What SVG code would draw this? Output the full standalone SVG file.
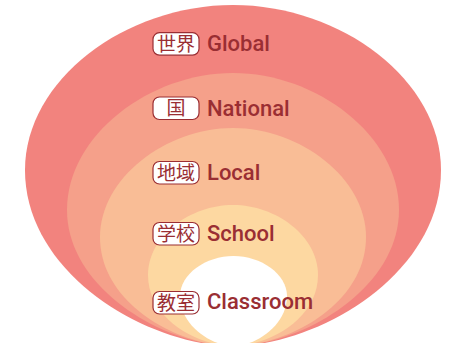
<svg xmlns="http://www.w3.org/2000/svg" width="452" height="343" viewBox="0 0 452 343">
<style>
.lat{font-family:Roboto,"Liberation Sans",sans-serif;font-weight:500;font-size:22px;fill:#9a2e33}
.cjk{font-family:"Noto Sans CJK JP","Noto Sans",sans-serif;font-size:19px;fill:#9a2e33;text-anchor:middle}
.box{fill:#fff;stroke:#9a2e33;stroke-width:1.2}
</style>
<rect width="452" height="343" fill="#fff"/>
<g id="global">
<path d="M233,346 C149.8,346 25,275.6 25,170 C25,80 125,5 233,5 C341,5 441,80 441,170 C441,275.6 316.2,346 233,346Z" fill="#f2837e"/>
</g>
<g id="national">
<path d="M233,346 C166.6,346 67,290 67,210 C67,135 150,73 233,73 C316,73 399,135 399,210 C399,290 299.4,346 233,346Z" fill="#f5a08a"/>
</g>
<g id="local">
<path d="M233,346 C180,346 100,305 100,237 C100,178 166,128 233,128 C300,128 366,178 366,237 C366,305 286,346 233,346Z" fill="#f9bd96"/>
</g>
<g id="school">
<path d="M233,346 C199,346 148,320 148,275 C148,236 190,205 233,205 C276,205 318,236 318,275 C318,320 267,346 233,346Z" fill="#fdd8a1"/>
</g>
<g id="classroom">
<path d="M233.5,346 C212,346 180,326 180,296 C180,274 206,256 233.5,256 C261,256 287,274 287,296 C287,326 255,346 233.5,346Z" fill="#fff"/>
</g>
<g id="label-global">
<rect class="box" x="153" y="32.7" width="46" height="22.5" rx="6.5"/>
<text class="cjk" x="176" y="50.7">世界</text>
<text class="lat" x="207" y="51">Global</text>
</g>
<g id="label-national">
<rect class="box" x="153" y="97" width="46" height="22.5" rx="6.5"/>
<text class="cjk" x="176" y="115">国</text>
<text class="lat" x="207" y="115.5">National</text>
</g>
<g id="label-local">
<rect class="box" x="153" y="161.5" width="46" height="22.5" rx="6.5"/>
<text class="cjk" x="176" y="179.5">地域</text>
<text class="lat" x="207" y="179.5">Local</text>
</g>
<g id="label-school">
<rect class="box" x="153" y="222.5" width="46" height="22.5" rx="6.5"/>
<text class="cjk" x="176" y="240.5">学校</text>
<text class="lat" x="207" y="240.5">School</text>
</g>
<g id="label-classroom">
<rect class="box" x="153" y="291.5" width="46" height="22.5" rx="6.5"/>
<text class="cjk" x="176" y="309.5">教室</text>
<text class="lat" x="207" y="309">Classroom</text>
</g>
</svg>
